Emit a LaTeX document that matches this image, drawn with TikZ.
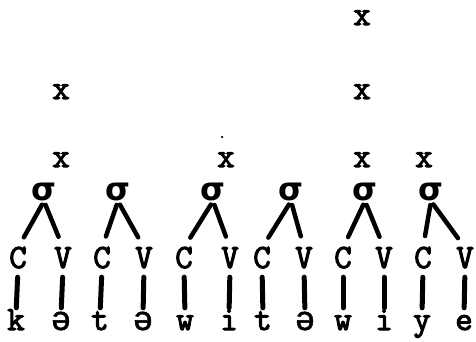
\documentclass[tikz,border=0pt]{standalone}
\usepackage{fontspec}
\newfontfamily\tw{Latin Modern Mono}[FakeBold=3]
\newfontfamily\schwafont{Liberation Mono}[FakeBold=1.5]
\newfontfamily\sg{DejaVu Sans}
\newcommand{\shwa}{{\schwafont ə}}
\begin{document}
\begin{tikzpicture}[x=1pt,y=-1pt,
  glyph/.style={inner sep=0pt, anchor=base, font=\tw\fontsize{34}{34}\selectfont},
  cvl/.style={glyph, text height=20pt, text depth=0pt},
  segl/.style={glyph, text height=15pt, text depth=0pt},
  gridx/.style={glyph},
  syl/.style={inner sep=0pt, font=\sg\bfseries\fontsize{32}{32}\selectfont},
  wedge/.style={line width=4.5pt, line cap=round, shorten <=4pt, shorten >=12pt},
  assoc/.style={line width=5pt, line cap=round, shorten <=9pt, shorten >=7pt}]
\useasboundingbox (0,0) rectangle (476,342);
% segments
\foreach \n/\x/\t in {1/16/k,2/61/\shwa,3/100/t,4/143/\shwa,5/185/w,6/229/i,7/263/t,8/305/\shwa,9/343/w,10/384/i,11/422/y,12/464/e}
  \node[segl] (seg\n) at (\x,330) {\t};
% CV tier
\foreach \n/\x/\t in {1/18/C,2/63/V,3/102/C,4/144/V,5/184/C,6/230/V,7/262/C,8/304/V,9/343/C,10/384/V,11/423/C,12/465/V}
  \node[cvl] (cv\n) at (\x,268) {\t};
% association lines
\foreach \n in {1,...,12}
  \draw[assoc] (cv\n.south) -- (seg\n.north);
% syllables
\foreach \n/\x in {1/44,2/118,3/213,4/291,5/365,6/431}
  \node[syl] (s\n) at (\x,192) {σ};
% wedges
\foreach \n/\c/\v in {1/1/2,2/3/4,3/5/6,4/7/8,5/9/10,6/11/12}{
  \draw[wedge] (s\n.south) -- (cv\c.north);
  \draw[wedge] (s\n.south) -- (cv\v.north);
}
% grid marks
\node[gridx] (x1) at (61,167) {x};
\node[gridx] (x2) at (226,167) {x};
\node[gridx] (x3) at (362,167) {x};
\node[gridx] (x4) at (424,167) {x};
\node[gridx] (x5) at (61,99) {x};
\node[gridx] (x6) at (362,99) {x};
\node[gridx] (x7) at (362,25) {x};
\node[circle, fill, inner sep=0pt, minimum size=2.5pt] (dot) at (222,137) {};
\end{tikzpicture}
\end{document}
